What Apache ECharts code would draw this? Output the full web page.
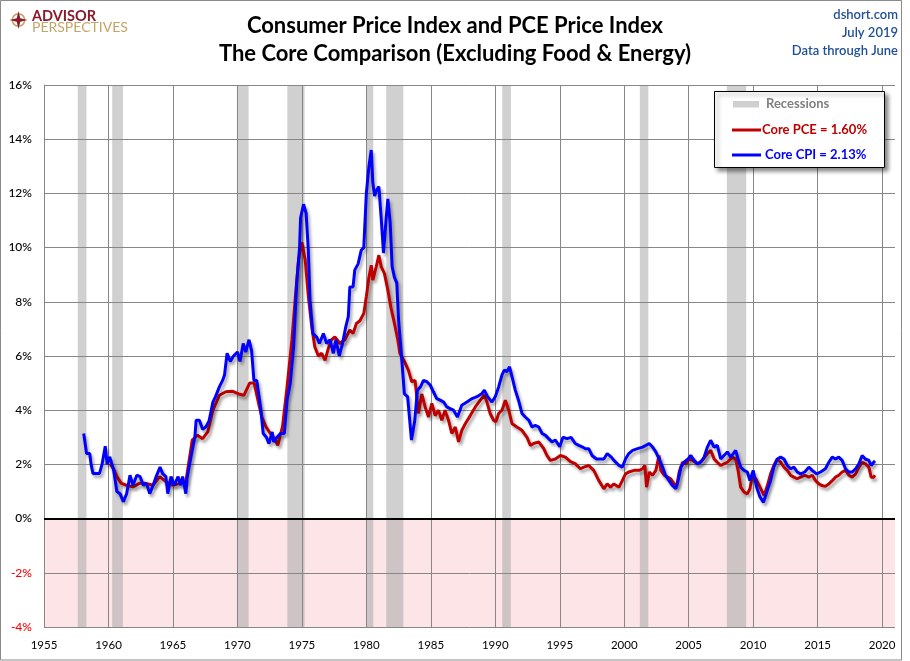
<!DOCTYPE html>
<html><head><meta charset="utf-8">
<script src="https://cdn.jsdelivr.net/npm/echarts@6/dist/echarts.min.js"></script>
<style>html,body{margin:0;padding:0;background:#fff}#c{width:910px;height:661px}</style>
</head><body><div id="c"></div><script>
const titleLines = ['Consumer Price Index and PCE Price Index', 'The Core Comparison (Excluding Food & Energy)'];
const sourceLines = ['dshort.com', 'July 2019', 'Data through June'];
const legendLabels = ['Recessions', 'Core PCE = 1.60%', 'Core CPI = 2.13%'];
const xTicks = [1955,1960,1965,1970,1975,1980,1985,1990,1995,2000,2005,2010,2015,2020];
const yTicks = [-4,-2,0,2,4,6,8,10,12,14,16];
const recessionStart = [1957.62,1960.29,1969.96,1973.87,1980.04,1981.54,1990.54,2001.21,2007.96];
const recessionEnd   = [1958.29,1961.12,1970.87,1975.21,1980.54,1982.87,1991.21,2001.87,2009.46];

const cpiDates = [1958.08,1958.3,1958.55,1958.65,1958.8,1959.3,1959.5,1959.75,1959.9,1960.1,1960.4,1960.65,1960.9,1961.15,1961.4,1961.67,1961.9,1962.2,1962.45,1962.7,1962.95,1963.2,1963.46,1963.7,1964.0,1964.2,1964.45,1964.6,1964.85,1965.1,1965.4,1965.6,1965.75,1966.0,1966.1,1966.4,1966.7,1966.8,1967.05,1967.3,1967.55,1967.8,1968.1,1968.3,1968.6,1968.85,1969.0,1969.2,1969.45,1969.7,1970.0,1970.2,1970.45,1970.65,1970.9,1971.1,1971.28,1971.5,1971.8,1972.0,1972.25,1972.44,1972.7,1972.8,1973.08,1973.33,1973.64,1973.85,1974.1,1974.36,1974.6,1974.82,1974.9,1975.13,1975.33,1975.5,1975.63,1975.85,1976.15,1976.36,1976.67,1976.92,1977.18,1977.44,1977.64,1977.9,1978.15,1978.4,1978.6,1978.72,1978.97,1979.1,1979.36,1979.6,1979.8,1980.0,1980.2,1980.38,1980.5,1980.64,1980.77,1980.97,1981.15,1981.33,1981.54,1981.67,1981.85,1982.0,1982.18,1982.36,1982.5,1982.75,1982.95,1983.2,1983.5,1983.75,1983.96,1984.2,1984.43,1984.7,1984.95,1985.2,1985.46,1985.73,1986.0,1986.24,1986.5,1986.76,1987.07,1987.4,1987.8,1988.2,1988.58,1988.97,1989.15,1989.4,1989.74,1990.0,1990.26,1990.52,1990.7,1990.9,1991.11,1991.3,1991.55,1991.8,1992.07,1992.33,1992.6,1992.85,1993.1,1993.37,1993.63,1993.9,1994.14,1994.4,1994.66,1995.0,1995.25,1995.57,1995.88,1996.2,1996.48,1996.74,1997.0,1997.25,1997.5,1997.85,1998.16,1998.42,1998.68,1999.0,1999.2,1999.6,1999.85,2000.1,2000.35,2000.65,2001.03,2001.42,2001.68,2001.94,2002.2,2002.45,2002.7,2002.97,2003.2,2003.48,2003.74,2004.0,2004.18,2004.4,2004.64,2004.95,2005.16,2005.42,2005.68,2005.94,2006.2,2006.45,2006.7,2006.97,2007.22,2007.48,2007.74,2008.0,2008.26,2008.46,2008.64,2008.83,2009.03,2009.3,2009.55,2009.75,2010.0,2010.27,2010.53,2010.8,2011.05,2011.35,2011.6,2011.87,2012.13,2012.39,2012.65,2012.9,2013.16,2013.42,2013.68,2014.0,2014.32,2014.58,2014.92,2015.23,2015.6,2015.87,2016.13,2016.39,2016.64,2016.9,2017.16,2017.42,2017.68,2017.94,2018.2,2018.45,2018.7,2018.97,2019.15,2019.35,2019.45];
const cpiValues = [3.14,2.4,2.4,2.0,1.66,1.66,2.0,2.67,2.0,2.28,1.8,1.0,0.92,0.62,0.9,1.6,1.23,1.6,1.55,1.23,1.3,0.92,1.23,1.55,1.9,1.66,1.55,0.92,1.55,1.23,1.55,1.23,1.55,0.92,1.5,2.28,3.0,3.63,3.63,3.3,3.38,3.6,4.3,4.5,4.86,5.1,5.3,6.1,5.8,6.0,6.15,5.8,6.46,6.15,6.6,6.2,5.1,5.1,4.1,3.14,3.0,2.77,3.2,2.83,3.0,3.14,3.14,4.37,5.0,6.34,8.7,10.0,11.1,11.6,11.26,9.9,8.06,6.83,6.7,6.46,6.83,6.46,6.6,6.1,6.6,6.0,6.46,7.07,7.45,8.55,8.55,9.17,9.4,9.9,10.0,12.0,13.0,13.6,12.4,11.9,12.1,12.25,11.1,9.8,11.1,11.8,10.9,9.3,8.9,8.7,7.33,5.85,4.6,4.5,2.9,3.6,4.74,4.86,5.1,5.05,4.93,4.68,4.43,4.37,4.3,4.12,4.06,4.0,3.75,4.18,4.3,4.43,4.5,4.62,4.74,4.5,4.3,4.5,4.86,5.3,5.48,5.42,5.6,5.23,4.74,4.37,3.88,3.75,3.63,3.38,3.44,3.38,3.14,3.07,2.95,2.83,2.9,2.65,3.0,2.95,3.0,2.77,2.7,2.65,2.58,2.58,2.33,2.2,2.2,2.2,2.4,2.27,2.15,1.96,1.9,2.2,2.4,2.52,2.58,2.64,2.7,2.77,2.64,2.46,2.2,1.9,1.6,1.4,1.22,1.1,1.4,1.9,2.08,2.2,2.33,2.15,2.02,2.08,2.27,2.64,2.89,2.64,2.7,2.2,2.33,2.46,2.27,2.4,2.52,2.2,1.9,1.78,1.72,1.4,1.78,1.16,0.8,0.6,0.98,1.4,1.9,2.2,2.27,2.2,1.96,1.84,1.9,1.72,1.65,1.72,1.9,1.78,1.65,1.72,1.84,2.08,2.27,2.2,2.27,2.15,1.84,1.72,1.72,1.84,2.02,2.33,2.2,2.15,1.96,2.08,2.13];

const pceDates = [1960.13,1960.44,1960.65,1961.0,1961.4,1961.9,1962.4,1962.9,1963.46,1963.97,1964.5,1965.0,1965.5,1966.0,1966.5,1966.9,1967.3,1967.7,1968.1,1968.6,1969.1,1969.6,1970.1,1970.5,1970.95,1971.3,1971.67,1971.9,1972.2,1972.56,1972.95,1973.13,1973.5,1973.85,1974.23,1974.5,1974.74,1975.0,1975.26,1975.5,1975.77,1976.0,1976.28,1976.54,1976.8,1977.05,1977.3,1977.56,1977.95,1978.33,1978.72,1978.97,1979.23,1979.5,1979.8,1980.0,1980.2,1980.38,1980.5,1980.77,1980.97,1981.15,1981.4,1981.67,1981.9,1982.18,1982.44,1982.6,1982.95,1983.26,1983.52,1983.78,1984.04,1984.3,1984.56,1984.82,1985.08,1985.34,1985.6,1985.85,1986.1,1986.37,1986.63,1986.9,1987.15,1987.41,1987.67,1988.06,1988.45,1988.84,1989.15,1989.35,1989.6,1989.87,1990.05,1990.26,1990.52,1990.78,1991.04,1991.3,1991.68,1992.07,1992.46,1992.72,1992.97,1993.37,1993.76,1994.0,1994.27,1994.66,1995.05,1995.44,1995.83,1996.2,1996.6,1996.86,1997.25,1997.64,1998.03,1998.42,1998.68,1998.94,1999.2,1999.6,1999.85,2000.1,2000.35,2000.77,2001.16,2001.42,2001.6,2001.73,2001.94,2002.2,2002.45,2002.7,2002.84,2003.1,2003.36,2003.6,2003.87,2004.08,2004.26,2004.52,2004.78,2005.03,2005.3,2005.68,2006.06,2006.45,2006.71,2006.97,2007.22,2007.48,2007.74,2008.0,2008.39,2008.64,2008.83,2009.03,2009.3,2009.55,2009.75,2009.94,2010.2,2010.53,2010.85,2011.1,2011.35,2011.6,2011.87,2012.13,2012.39,2012.65,2012.9,2013.16,2013.42,2013.68,2014.0,2014.32,2014.58,2014.84,2015.1,2015.35,2015.6,2015.87,2016.13,2016.39,2016.64,2016.9,2017.16,2017.42,2017.68,2017.94,2018.2,2018.45,2018.71,2018.97,2019.15,2019.35,2019.45];
const pceValues = [2.03,1.78,1.55,1.3,1.23,1.17,1.3,1.3,1.23,1.55,1.35,1.23,1.3,1.35,2.9,3.08,2.95,3.2,4.0,4.55,4.68,4.7,4.6,4.55,5.0,5.0,4.2,3.75,3.4,3.14,2.9,2.7,3.4,4.86,6.6,8.2,9.54,10.2,9.54,8.2,7.07,6.34,6.0,6.1,5.84,6.28,6.6,6.7,6.46,6.6,6.96,6.83,7.2,7.3,7.57,8.2,8.9,9.35,8.8,9.3,9.72,9.3,9.05,8.43,7.8,7.2,6.6,6.1,5.8,5.48,5.05,5.1,3.88,4.6,4.12,3.75,4.25,3.8,4.0,3.63,4.0,3.63,3.14,3.38,2.83,3.26,3.5,3.8,4.12,4.37,4.56,4.3,3.88,3.63,3.57,3.88,4.0,4.37,4.0,3.5,3.38,3.26,3.0,2.7,2.77,2.83,2.58,2.33,2.15,2.2,2.33,2.27,2.1,2.03,1.84,1.9,1.96,1.78,1.4,1.1,1.28,1.16,1.28,1.16,1.4,1.65,1.72,1.78,1.78,1.84,1.96,1.16,1.72,1.6,1.78,2.33,1.78,1.6,1.53,1.47,1.28,1.22,1.72,2.08,2.02,2.2,2.15,2.02,2.15,2.4,2.52,2.2,2.08,1.96,2.02,2.08,2.27,2.2,1.78,1.16,0.98,0.91,1.1,1.6,1.47,1.16,0.85,1.22,1.65,1.96,2.2,2.08,1.9,1.78,1.6,1.53,1.47,1.53,1.6,1.53,1.6,1.4,1.28,1.22,1.19,1.28,1.4,1.53,1.6,1.72,1.78,1.6,1.53,1.65,1.9,2.08,2.02,1.9,1.53,1.53,1.6];

const FONT = 'Lato, "Noto Sans", sans-serif';
const pair = (xs, ys) => xs.map((x, i) => [x, ys[i]]);
const shadow = { shadowColor: 'rgba(0,0,0,0.35)', shadowBlur: 3, shadowOffsetX: 2, shadowOffsetY: 3 };

const chart = echarts.init(document.getElementById('c'), null, { renderer: 'canvas' });
chart.setOption({
  animation: false,
  backgroundColor: '#fff',
  grid: { left: 44, right: 15, top: 85, bottom: 34, containLabel: false },
  xAxis: {
    type: 'value', min: xTicks[0], max: 2021, interval: 5, z: 3,
    axisLine: { show: false }, axisTick: { show: false }, splitLine: { show: false },
    axisLabel: { margin: 12, fontSize: 11.5, fontFamily: FONT, color: '#000',
      formatter: v => (xTicks.indexOf(v) >= 0 ? String(v) : '') }
  },
  yAxis: {
    type: 'value', min: yTicks[0], max: yTicks[yTicks.length - 1], interval: 2, z: 3,
    axisLine: { show: true, lineStyle: { color: '#878787', width: 1 } },
    axisTick: { show: false },
    splitLine: { show: true, lineStyle: { color: '#878787', width: 1 } },
    axisLabel: { margin: 12, fontSize: 12, fontWeight: 500, fontFamily: FONT,
      formatter: v => v + '%', color: v => (Number(v) < 0 ? '#ff0000' : '#000') }
  },
  series: [
    { type: 'line', name: 'negative', data: [], silent: true,
      markArea: { silent: true, z: 1, itemStyle: { color: '#fde4e6' },
        data: [[{ yAxis: yTicks[0] }, { yAxis: 0 }]] },
      markLine: { silent: true, z: 3, symbol: ['none', 'none'], label: { show: false },
        lineStyle: { color: '#878787', width: 1, type: 'solid' },
        data: xTicks.slice(1).map(t => ({ xAxis: t })) } },
    { type: 'line', name: 'Recessions', data: [], silent: true,
      markArea: { silent: true, z: 2, itemStyle: { color: 'rgba(170,170,170,0.55)' },
        data: recessionStart.map((s, i) => [{ xAxis: s }, { xAxis: recessionEnd[i] }]) },
      markLine: { silent: true, z: 4, symbol: ['none', 'none'], label: { show: false },
        lineStyle: { color: '#000', width: 2, type: 'solid' }, data: [{ yAxis: 0 }] } },
    { type: 'line', name: 'Core PCE', z: 5, data: pair(pceDates, pceValues), showSymbol: false, symbol: 'none',
      lineStyle: Object.assign({ color: '#c00000', width: 3 }, shadow), itemStyle: { color: '#c00000' } },
    { type: 'line', name: 'Core CPI', z: 6, data: pair(cpiDates, cpiValues), showSymbol: false, symbol: 'none',
      lineStyle: Object.assign({ color: '#0000ff', width: 3 }, shadow), itemStyle: { color: '#0000ff' } }
  ],
  graphic: [
    { type: 'rect', z: 100, shape: { x: 0.5, y: 0.5, width: 901, height: 659.5 }, style: { fill: 'none', stroke: '#8a8a8a', lineWidth: 1 } },
    // logo
    { type: 'circle', z: 100, shape: { cx: 18.5, cy: 20, r: 6.2 }, style: { fill: 'none', stroke: '#c4a465', lineWidth: 1.5 } },
    { type: 'polygon', z: 101, shape: { points: [[18.5,11],[20.3,18.2],[27.5,20],[20.3,21.8],[18.5,29],[16.7,21.8],[9.5,20],[16.7,18.2]] }, style: { fill: '#8b1a2b' } },
    { type: 'text', z: 101, style: { text: 'ADVISOR', x: 32, y: 16.5, fill: '#8b1a2b', fontSize: 14.5, fontWeight: 'bold', fontFamily: FONT, textVerticalAlign: 'middle' } },
    { type: 'text', z: 101, style: { text: 'PERSPECTIVES', x: 32, y: 27.5, fill: '#c4a465', fontSize: 14, fontFamily: FONT, textVerticalAlign: 'middle' } },
    // titles
    { type: 'text', z: 101, style: { text: titleLines[0], x: 455, y: 26, fill: '#000', fontSize: 22, fontWeight: 'bold', fontFamily: FONT, textAlign: 'center', textVerticalAlign: 'middle' } },
    { type: 'text', z: 101, style: { text: titleLines[1], x: 455, y: 54, fill: '#000', fontSize: 22, fontWeight: 'bold', fontFamily: FONT, textAlign: 'center', textVerticalAlign: 'middle' } },
    { type: 'text', z: 101, style: { text: sourceLines[0], x: 898, y: 15, fill: '#1f4e9a', fontSize: 13, fontWeight: 600, fontFamily: FONT, textAlign: 'right', textVerticalAlign: 'middle' } },
    { type: 'text', z: 101, style: { text: sourceLines[1], x: 898, y: 33, fill: '#1f4e9a', fontSize: 13, fontWeight: 600, fontFamily: FONT, textAlign: 'right', textVerticalAlign: 'middle' } },
    { type: 'text', z: 101, style: { text: sourceLines[2], x: 898, y: 51, fill: '#1f4e9a', fontSize: 13, fontWeight: 600, fontFamily: FONT, textAlign: 'right', textVerticalAlign: 'middle' } },
    // legend
    { type: 'rect', z: 110, shape: { x: 714.5, y: 91.5, width: 170, height: 76 }, style: { fill: '#fff', stroke: '#000', lineWidth: 1, shadowColor: 'rgba(0,0,0,0.45)', shadowBlur: 4, shadowOffsetX: 3, shadowOffsetY: 3 } },
    { type: 'rect', z: 111, shape: { x: 733, y: 101, width: 26, height: 6.5 }, style: { fill: '#d0d0d0' } },
    { type: 'text', z: 111, style: { text: legendLabels[0], x: 766, y: 104, fill: '#808080', fontSize: 13, fontWeight: 'bold', fontFamily: FONT, textVerticalAlign: 'middle' } },
    { type: 'line', z: 111, shape: { x1: 732, y1: 130, x2: 761, y2: 130 }, style: { stroke: '#c00000', lineWidth: 3 } },
    { type: 'text', z: 111, style: { text: legendLabels[1], x: 762, y: 130, fill: '#c00000', fontSize: 13, fontWeight: 'bold', fontFamily: FONT, textVerticalAlign: 'middle' } },
    { type: 'line', z: 111, shape: { x1: 732, y1: 155, x2: 761, y2: 155 }, style: { stroke: '#0000ff', lineWidth: 3 } },
    { type: 'text', z: 111, style: { text: legendLabels[2], x: 765, y: 155, fill: '#0000ff', fontSize: 13, fontWeight: 'bold', fontFamily: FONT, textVerticalAlign: 'middle' } }
  ]
});
</script></body></html>
